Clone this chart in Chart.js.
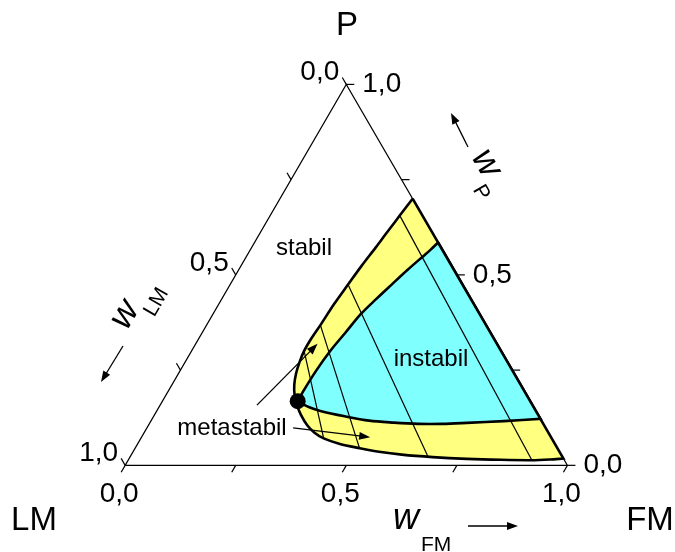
<!DOCTYPE html>
<html lang="de">
<head>
<meta charset="UTF-8">
<title>Ternäres Phasendiagramm P / LM / FM</title>
<script src="https://cdn.jsdelivr.net/npm/chart.js"></script>
<style>
    body { margin: 0; background: #fff; }
    #wrap { width: 675px; height: 552px; }
</style>
</head>
<body>
<div id="wrap"><canvas id="ternary" width="675" height="552"></canvas></div>
<script>
// compositions as mass fractions w_FM and w_P (w_LM = 1 - w_FM - w_P)

// binodal: from the P-FM side down round the left and back to the P-FM side
const binodalFM = [0.300, 0.2949, 0.2907, 0.2854, 0.2806, 0.2726, 0.2667, 0.2607, 0.2574, 0.2545, 0.2545, 0.2589, 0.2660, 0.2766, 0.2899,
                   0.3095, 0.3311, 0.3598, 0.3854, 0.4135, 0.4576, 0.5073, 0.5561, 0.6113, 0.6845, 0.7640, 0.8426, 0.9130, 0.9525, 0.9821];
const binodalP  = [0.700, 0.6684, 0.6403, 0.6059, 0.5722, 0.5230, 0.4745, 0.4235, 0.3681, 0.3342, 0.3003, 0.2704, 0.2406, 0.2117, 0.1862,
                   0.1582, 0.1327, 0.1046, 0.0855, 0.0707, 0.0561, 0.0452, 0.0357, 0.0281, 0.0217, 0.0171, 0.0145, 0.0135, 0.0153, 0.0179];

// spinodal, through the critical point
const spinodalFM = [0.415, 0.4077, 0.3991, 0.3817, 0.3653, 0.3492, 0.3346, 0.3241, 0.3135, 0.3077, 0.3055, 0.3059,
                    0.3384, 0.3700, 0.4322, 0.4932, 0.5510, 0.6077, 0.6629, 0.7170, 0.7985, 0.878];
const spinodalP  = [0.585, 0.5663, 0.5485, 0.5128, 0.4745, 0.4362, 0.3980, 0.3495, 0.3003, 0.2500, 0.1982, 0.1684,
                    0.1531, 0.1429, 0.1288, 0.1173, 0.1122, 0.1089, 0.1089, 0.1115, 0.1161, 0.122];

// critical point
const criticalFM = 0.3059;
const criticalP = 0.1684;

// tie lines (upper end / lower end on the binodal)
const tieTopFM = [0.2545, 0.2574, 0.2667, 0.2932];
const tieTopP  = [0.3003, 0.3681, 0.4745, 0.6556];
const tieBotFM = [0.4135, 0.5073, 0.6725, 0.913];
const tieBotP  = [0.0707, 0.0452, 0.0237, 0.0135];

// axis ticks and labelled values
const tickValues = [0, 0.25, 0.5, 0.75, 1];
const labelValues = [0, 0.5, 1];

const SQ3 = Math.sqrt(3) / 2;
const toXY = (fm, p) => ({ x: fm + p / 2, y: p * SQ3 });

// closed outline; listed indices and the last point are repeated so the curve keeps a corner there
function outline(fms, ps, sharp) {
    const pts = [];
    fms.forEach((fm, i) => {
        pts.push(toXY(fm, ps[i]));
        if (sharp.includes(i) || i === fms.length - 1) pts.push(toXY(fm, ps[i]));
    });
    pts.push(toXY(fms[0], ps[0]));
    return pts;
}

const critIdx = spinodalFM.indexOf(criticalFM);

const datasets = [
    {
        data: [toXY(criticalFM, criticalP)],
        showLine: false,
        pointRadius: 8,
        pointBackgroundColor: '#000',
        pointBorderWidth: 0,
        order: 0
    },
    ...tieTopFM.map((fm, i) => ({
        data: [toXY(fm, tieTopP[i]), toXY(tieBotFM[i], tieBotP[i])],
        showLine: true,
        borderColor: '#000',
        borderWidth: 1.2,
        pointRadius: 0,
        order: 1
    })),
    {
        // triangle LM - FM - P
        data: [toXY(0, 0), toXY(1, 0), toXY(0, 1), toXY(0, 0)],
        showLine: true,
        borderColor: '#000',
        borderWidth: 1.2,
        pointRadius: 0,
        order: 2
    },
    {
        data: outline(spinodalFM, spinodalP, [critIdx]),
        showLine: true,
        fill: 'shape',
        backgroundColor: '#80ffff',
        borderColor: '#000',
        borderWidth: 2.6,
        tension: 0.3,
        pointRadius: 0,
        order: 3
    },
    {
        data: outline(binodalFM, binodalP, []),
        showLine: true,
        fill: 'shape',
        backgroundColor: '#ffff80',
        borderColor: '#000',
        borderWidth: 2.6,
        tension: 0.3,
        pointRadius: 0,
        order: 4
    }
];

const FONT = "'Liberation Sans', Arial, sans-serif";
const fmt = v => v.toFixed(1).replace('.', ',');

function arrow(ctx, x1, y1, x2, y2) {
    const len = Math.hypot(x2 - x1, y2 - y1);
    const ux = (x2 - x1) / len, uy = (y2 - y1) / len;
    const head = 11, half = 4;
    ctx.beginPath();
    ctx.moveTo(x1, y1);
    ctx.lineTo(x2 - ux * head * 0.8, y2 - uy * head * 0.8);
    ctx.stroke();
    ctx.beginPath();
    ctx.moveTo(x2, y2);
    ctx.lineTo(x2 - ux * head - uy * half, y2 - uy * head + ux * half);
    ctx.lineTo(x2 - ux * head + uy * half, y2 - uy * head - ux * half);
    ctx.closePath();
    ctx.fill();
}

// italic w with subscript, optionally rotated about its origin
function wLabel(ctx, x, y, angle, sub, sx, sy) {
    ctx.save();
    ctx.translate(x, y);
    ctx.rotate(angle);
    ctx.textAlign = 'left';
    ctx.textBaseline = 'alphabetic';
    ctx.font = 'italic 36px ' + FONT;
    ctx.fillText('w', 0, 0);
    ctx.font = '21px ' + FONT;
    ctx.fillText(sub, sx, sy);
    ctx.restore();
}

const decor = {
    id: 'decor',
    afterDatasetsDraw(chart) {
        const ctx = chart.ctx;
        const sx = chart.scales.x, sy = chart.scales.y;
        const px = (fm, p) => [sx.getPixelForValue(fm + p / 2), sy.getPixelForValue(p * SQ3)];
        const tick = (pt, dx, dy) => {
            ctx.beginPath();
            ctx.moveTo(pt[0], pt[1]);
            ctx.lineTo(pt[0] + dx * 8, pt[1] + dy * 8);
            ctx.stroke();
        };
        ctx.save();
        ctx.strokeStyle = '#000';
        ctx.fillStyle = '#000';
        ctx.lineWidth = 1.2;

        tickValues.forEach(v => {
            tick(px(v, 0), -0.5, SQ3);        // w_FM, bottom
            tick(px(1 - v, v), 1, 0);          // w_P, right
            tick(px(0, 1 - v), -0.5, -SQ3);   // w_LM, left
        });

        ctx.font = '28px ' + FONT;
        ctx.textBaseline = 'alphabetic';
        labelValues.forEach(v => {
            let p = px(v, 0);
            ctx.textAlign = 'center';
            ctx.fillText(fmt(v), p[0] - 6, p[1] + 37);
            p = px(1 - v, v);
            ctx.textAlign = 'left';
            ctx.fillText(fmt(v), p[0] + 16, p[1] + 8);
            p = px(0, 1 - v);
            ctx.textAlign = 'right';
            ctx.fillText(fmt(v), p[0] - 7, p[1] - 4);
        });

        // corner names
        ctx.font = '33px ' + FONT;
        ctx.textAlign = 'center';
        ctx.fillText('P', 347, 35);
        ctx.fillText('LM', 34, 530);
        ctx.fillText('FM', 650, 530);

        // region names
        ctx.font = '24px ' + FONT;
        ctx.textBaseline = 'middle';
        ctx.fillText('stabil', 304, 248);
        ctx.fillText('instabil', 431, 359);
        ctx.fillText('metastabil', 232, 428);

        // pointers from "metastabil" into the two metastable bands
        ctx.lineWidth = 1.3;
        let a = px(0.219, 0.158), b = px(0.2755, 0.319);
        arrow(ctx, a[0], a[1], b[0], b[1]);
        a = px(0.3307, 0.0982); b = px(0.517, 0.074);
        arrow(ctx, a[0], a[1], b[0], b[1]);

        // axis titles with direction arrows
        ctx.textBaseline = 'alphabetic';
        wLabel(ctx, 393, 529, 0, 'FM', 28, 22);
        arrow(ctx, 468, 526, 518, 526);
        wLabel(ctx, 127, 331, -Math.PI / 3, 'LM', 25, 17);
        arrow(ctx, 123, 346, 101, 382);
        wLabel(ctx, 471, 157, Math.PI / 3, 'P', 29, 15);
        arrow(ctx, 468, 147, 451, 113);

        ctx.restore();
    }
};

new Chart(document.getElementById('ternary'), {
    type: 'scatter',
    data: { datasets },
    options: {
        responsive: false,
        animation: false,
        events: [],
        layout: { padding: 0 },
        plugins: { legend: { display: false }, tooltip: { enabled: false } },
        scales: {
            x: { type: 'linear', min: -120 / 453, max: 555 / 453, display: false },
            y: { type: 'linear', min: -81 / 453, max: 471 / 453, display: false }
        }
    },
    plugins: [decor]
});
</script>
</body>
</html>
